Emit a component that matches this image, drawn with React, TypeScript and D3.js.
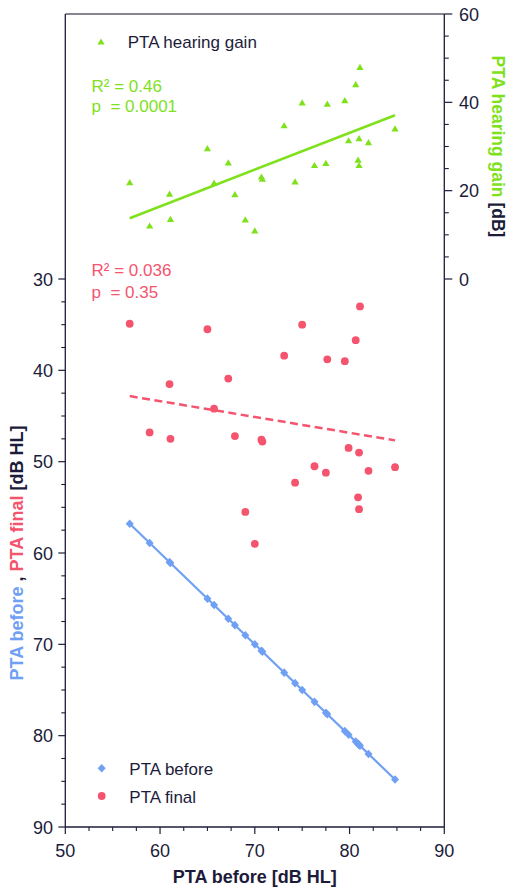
import React from "react";
import * as d3 from "d3";

// ---- data ----
const ptaBefore = [56.8, 58.9, 61.0, 61.1, 65.0, 65.7, 67.2, 67.9, 69.0, 70.0, 70.7, 70.8, 73.1, 74.25, 75.0, 76.3, 77.5, 77.65, 79.5, 79.9, 80.65, 80.9, 81.0, 81.0, 81.1, 82.0, 84.8];
const ptaFinal = [34.9, 46.8, 41.5, 47.5, 35.5, 44.2, 40.9, 47.2, 55.5, 59.0, 47.6, 47.8, 38.4, 52.3, 35.0, 50.5, 51.2, 38.8, 39.0, 48.5, 36.7, 53.9, 49.0, 55.2, 33.0, 51.0, 50.6];
const hearingGain = [21.8, 12.0, 19.2, 13.5, 29.5, 21.7, 26.3, 19.1, 13.4, 10.9, 23.1, 22.6, 34.7, 22.0, 39.9, 25.7, 26.2, 39.6, 40.4, 31.3, 44.0, 26.9, 31.8, 25.7, 47.9, 30.9, 34.0];

const xTicks = [50, 60, 70, 80, 90];
const leftTicks = [30, 40, 50, 60, 70, 80, 90];
const rightTicks = [0, 20, 40, 60];
const gainStats = ["R\u00B2 = 0.46", "p  = 0.0001"];
const finalStats = ["R\u00B2 = 0.036", "p  = 0.35"];

const GREEN = "#7fe11c";
const PINK = "#f5546f";
const BLUE = "#6fa0f3";
const DARK = "#1c1c3a";
const FONT = "'Liberation Sans', Arial, Helvetica, sans-serif";

function fit(xs: number[], ys: number[]) {
  const mx = d3.mean(xs)!;
  const my = d3.mean(ys)!;
  let sxy = 0, sxx = 0;
  xs.forEach((x, i) => {
    sxy += (x - mx) * (ys[i] - my);
    sxx += (x - mx) * (x - mx);
  });
  const b = sxy / sxx;
  return (x: number) => my + b * (x - mx);
}

export default function App() {
  const L = 65.3, R = 444.3, T = 14, B = 827;
  const x = d3.scaleLinear().domain([50, 90]).range([L, R]);
  const yL = d3.scaleLinear().domain([30, 90]).range([279, B]);
  const yR = d3.scaleLinear().domain([0, 60]).range([279, T]);

  const [xmin, xmax] = d3.extent(ptaBefore) as [number, number];
  const fGain = fit(ptaBefore, hearingGain);
  const fFinal = fit(ptaBefore, ptaFinal);
  const fBefore = fit(ptaBefore, ptaBefore);

  const line = d3.line<[number, number]>().x(d => d[0]).y(d => d[1]);
  const gainLine = line([[x(xmin), yR(fGain(xmin))], [x(xmax), yR(fGain(xmax))]]);
  const finalLine = line([[x(xmin), yL(fFinal(xmin))], [x(xmax), yL(fFinal(xmax))]]);
  const beforeLine = line([[x(xmin), yL(fBefore(xmin))], [x(xmax), yL(fBefore(xmax))]]);

  const tri = (cx: number, cy: number) => `M${cx},${cy - 3.6}L${cx + 3.6},${cy + 2.6}L${cx - 3.6},${cy + 2.6}Z`;
  const dia = (cx: number, cy: number) => `M${cx},${cy - 4.3}L${cx + 4},${cy}L${cx},${cy + 4.3}L${cx - 4},${cy}Z`;

  const xMinor = d3.range(50, 90.01, 2.5).filter(v => v % 10 !== 0);
  const leftMinor = d3.range(30, 90.01, 2.5).filter(v => v % 10 !== 0);
  const rightMinor = d3.range(0, 60.01, 5).filter(v => v % 20 !== 0);

  return (
    <svg width={512} height={895} style={{ position: "absolute", left: 0, top: 0, background: "#fff" }} fontFamily={FONT}>
      {/* frame */}
      <line x1={L} x2={R} y1={T} y2={T} stroke="#5c5c6c" strokeWidth={1.3} />
      <line x1={L} x2={L} y1={T} y2={B} stroke={DARK} strokeWidth={1.3} />
      <line x1={R} x2={R} y1={T} y2={B} stroke={DARK} strokeWidth={1.3} />
      <line x1={L} x2={R} y1={B} y2={B} stroke={DARK} strokeWidth={1.3} />

      {/* x axis */}
      {xTicks.map(v => (
        <g key={"xt" + v}>
          <line x1={x(v)} x2={x(v)} y1={B} y2={B + 7} stroke={DARK} strokeWidth={1.2} />
          <text x={x(v)} y={856.5} textAnchor="middle" fontSize={18} fill={DARK}>{v}</text>
        </g>
      ))}
      {xMinor.map(v => (
        <line key={"xm" + v} x1={x(v)} x2={x(v)} y1={B} y2={B + 4} stroke={DARK} strokeWidth={1.1} />
      ))}
      <text x={(L + R) / 2} y={883} textAnchor="middle" fontSize={18} fontWeight="bold" fill={DARK}>PTA before [dB HL]</text>

      {/* left axis */}
      {leftTicks.map(v => (
        <g key={"lt" + v}>
          <line x1={L - 7} x2={L} y1={yL(v)} y2={yL(v)} stroke={DARK} strokeWidth={1.2} />
          <text x={53} y={yL(v) + 6.5} textAnchor="end" fontSize={18} fill={DARK}>{v}</text>
        </g>
      ))}
      {leftMinor.map(v => (
        <line key={"lm" + v} x1={L - 4} x2={L} y1={yL(v)} y2={yL(v)} stroke={DARK} strokeWidth={1.1} />
      ))}
      <text transform={`translate(22.5,${(yL(30) + yL(90)) / 2}) rotate(-90)`} textAnchor="middle" fontSize={18} fontWeight="bold" style={{ whiteSpace: "pre" }}>
        <tspan fill={BLUE}>PTA before</tspan>
        <tspan fill={DARK}>{" , "}</tspan>
        <tspan fill={PINK}>PTA final</tspan>
        <tspan fill={DARK}>{" [dB HL]"}</tspan>
      </text>

      {/* right axis */}
      {rightTicks.map(v => (
        <g key={"rt" + v}>
          <line x1={R} x2={R + 8} y1={yR(v)} y2={yR(v)} stroke={DARK} strokeWidth={1.2} />
          <text x={459} y={yR(v) + 6.5} textAnchor="start" fontSize={18} fill={DARK}>{v}</text>
        </g>
      ))}
      {rightMinor.map(v => (
        <line key={"rm" + v} x1={R} x2={R + 4.5} y1={yR(v)} y2={yR(v)} stroke={DARK} strokeWidth={1.1} />
      ))}
      <text transform={`translate(491.5,${(yR(0) + yR(60)) / 2}) rotate(90)`} textAnchor="middle" fontSize={17.5} fontWeight="bold" style={{ whiteSpace: "pre" }}>
        <tspan fill={GREEN}>PTA hearing gain</tspan>
        <tspan fill={DARK}>{" [dB]"}</tspan>
      </text>

      {/* regression lines */}
      <path d={gainLine!} stroke={GREEN} strokeWidth={2.6} fill="none" />
      <path d={finalLine!} stroke={PINK} strokeWidth={2.5} strokeDasharray="8,4.5" fill="none" />
      <path d={beforeLine!} stroke={BLUE} strokeWidth={2.2} fill="none" />

      {/* points */}
      {ptaBefore.map((v, i) => (
        <path key={"b" + i} d={dia(x(v), yL(v))} fill={BLUE} />
      ))}
      {ptaFinal.map((v, i) => (
        <circle key={"f" + i} cx={x(ptaBefore[i])} cy={yL(v)} r={3.9} fill={PINK} />
      ))}
      {hearingGain.map((v, i) => (
        <path key={"g" + i} d={tri(x(ptaBefore[i]), yR(v))} fill={GREEN} />
      ))}

      {/* stats */}
      <text x={91.5} y={92.3} fontSize={17} fill={GREEN} style={{ whiteSpace: "pre" }}>{gainStats[0]}</text>
      <text x={91.5} y={112} fontSize={17} fill={GREEN} style={{ whiteSpace: "pre" }}>{gainStats[1]}</text>
      <text x={91.5} y={276} fontSize={17} fill={PINK} style={{ whiteSpace: "pre" }}>{finalStats[0]}</text>
      <text x={91.5} y={298.3} fontSize={17} fill={PINK} style={{ whiteSpace: "pre" }}>{finalStats[1]}</text>

      {/* legends */}
      <path d={tri(101, 42)} fill={GREEN} />
      <text x={127.7} y={48.3} fontSize={17} fill={DARK}>PTA hearing gain</text>
      <path d={dia(101.7, 768.3)} fill={BLUE} />
      <text x={129.3} y={775} fontSize={17} fill={DARK}>PTA before</text>
      <circle cx={101.7} cy={796} r={3.9} fill={PINK} />
      <text x={129.3} y={802.7} fontSize={17} fill={DARK}>PTA final</text>
    </svg>
  );
}
